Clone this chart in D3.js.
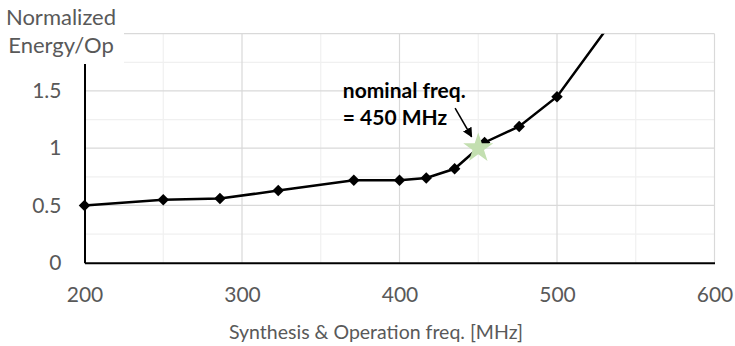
<!DOCTYPE html>
<html><head><meta charset="utf-8">
<script src="https://cdn.jsdelivr.net/npm/d3@7"></script>
<style>
body{margin:0;background:#fff;}
text{font-family:Lato,"Open Sans",sans-serif;}
</style></head>
<body><svg id="c" width="735" height="346"></svg>
<script>
const freq   = [200, 250, 286, 323, 371, 400, 417, 435, 454, 476, 500, 550];
const energy = [0.50, 0.55, 0.56, 0.63, 0.72, 0.72, 0.74, 0.82, 1.05, 1.19, 1.45, 2.39];
const nominal = {freq: 450, energy: 1.0};
const xTicks = [200, 300, 400, 500, 600];
const yTicks = [0, 0.5, 1, 1.5];
const xMinor = [250, 350, 450, 550];
const yMajorGrid = [0.5, 1, 1.5, 2];
const yMinorGrid = [0.25, 0.75, 1.25, 1.75];
const annoLines = ["nominal freq.", "= 450 MHz"];
const annoPos = {x: 364, y1: 1.44, y2: 1.20};
const arrow = {x1: 435.3, y1: 1.35, x2: 445.8, y2: 1.10};

const svg = d3.select("#c");
const m = {l: 84.5, r: 714.5, t: 33.7, b: 262.7};
const x = d3.scaleLinear().domain([200, 600]).range([m.l, m.r]);
const y = d3.scaleLinear().domain([0, 2]).range([m.b, m.t]);
const grey = "#595959";

// gridlines
svg.append("g").selectAll("line").data(yMinorGrid).join("line")
  .attr("x1", m.l).attr("x2", m.r).attr("y1", d => y(d)).attr("y2", d => y(d))
  .attr("stroke", "#f0f0f0").attr("stroke-width", 1.2);
svg.append("g").selectAll("line").data(xMinor).join("line")
  .attr("y1", m.t).attr("y2", m.b).attr("x1", d => x(d)).attr("x2", d => x(d))
  .attr("stroke", "#f0f0f0").attr("stroke-width", 1.2);
svg.append("g").selectAll("line").data(yMajorGrid).join("line")
  .attr("x1", m.l).attr("x2", m.r).attr("y1", d => y(d)).attr("y2", d => y(d))
  .attr("stroke", "#d9d9d9").attr("stroke-width", 1.2);
svg.append("g").selectAll("line").data(xTicks.slice(1)).join("line")
  .attr("y1", m.t).attr("y2", m.b).attr("x1", d => x(d)).attr("x2", d => x(d))
  .attr("stroke", "#d9d9d9").attr("stroke-width", 1.2);

// axes
const xAxis = svg.append("g").attr("transform", `translate(0,${m.b})`)
  .call(d3.axisBottom(x).tickValues(xTicks).tickSize(0).tickPadding(24).tickFormat(d3.format("d")));
xAxis.select(".domain").attr("stroke", "#000").attr("stroke-width", 2);
xAxis.selectAll("text").attr("fill", grey).attr("font-size", 21).style("font-family", "Lato");

const yAxis = svg.append("g").attr("transform", `translate(${m.l},0)`)
  .call(d3.axisLeft(y).tickValues(yTicks).tickSize(0).tickPadding(23).tickFormat(d => d));
yAxis.select(".domain").attr("stroke", "#000").attr("stroke-width", 2);
yAxis.selectAll("text").attr("fill", grey).attr("font-size", 21).style("font-family", "Lato");

// data
svg.append("clipPath").attr("id", "clip").append("rect")
  .attr("x", m.l - 10).attr("y", m.t).attr("width", m.r - m.l + 20).attr("height", m.b - m.t + 10);
const pts = freq.map((f, i) => ({f, e: energy[i]}));
const g = svg.append("g").attr("clip-path", "url(#clip)");
g.append("path").datum(pts)
  .attr("d", d3.line().x(d => x(d.f)).y(d => y(d.e)))
  .attr("fill", "none").attr("stroke", "#000").attr("stroke-width", 2.5);
g.selectAll(".mk").data(pts).join("path").attr("class", "mk")
  .attr("d", d3.symbol(d3.symbolSquare, 66)())
  .attr("transform", d => `translate(${x(d.f)},${y(d.e)}) rotate(45)`)
  .attr("fill", "#000");

// nominal star
svg.append("path")
  .attr("d", d3.symbol(d3.symbolStar, 280)())
  .attr("transform", `translate(${x(nominal.freq)},${y(nominal.energy)})`)
  .attr("fill", "#c3dfb0");

// annotation
svg.append("defs").append("marker").attr("id", "ah")
  .attr("viewBox", "0 0 10 10").attr("refX", 9).attr("refY", 5)
  .attr("markerWidth", 6.5).attr("markerHeight", 6.5).attr("orient", "auto")
  .attr("markerUnits", "strokeWidth")
  .append("path").attr("d", "M0,0L10,5L0,10Z").attr("fill", "#000");
svg.append("line")
  .attr("x1", x(arrow.x1)).attr("y1", y(arrow.y1)).attr("x2", x(arrow.x2)).attr("y2", y(arrow.y2))
  .attr("stroke", "#000").attr("stroke-width", 1.5).attr("marker-end", "url(#ah)");
svg.append("g").selectAll("text").data(annoLines).join("text")
  .attr("x", x(annoPos.x)).attr("y", (d, i) => y(i ? annoPos.y2 : annoPos.y1))
  .attr("font-size", 21).attr("font-weight", "bold").attr("fill", "#000").text(d => d);

// y title box
svg.append("rect").attr("x", 0).attr("y", 0).attr("width", 124).attr("height", 64).attr("fill", "#fff");
svg.append("g").selectAll("text").data(["Normalized", "Energy/Op"]).join("text")
  .attr("x", 61).attr("y", (d, i) => 25 + i * 28).attr("text-anchor", "middle")
  .attr("font-size", 22).attr("fill", grey).text(d => d);

// x title
svg.append("text").attr("x", 376).attr("y", 339).attr("text-anchor", "middle")
  .attr("font-size", 19.5).attr("fill", grey).text("Synthesis & Operation freq. [MHz]");
</script></body></html>
